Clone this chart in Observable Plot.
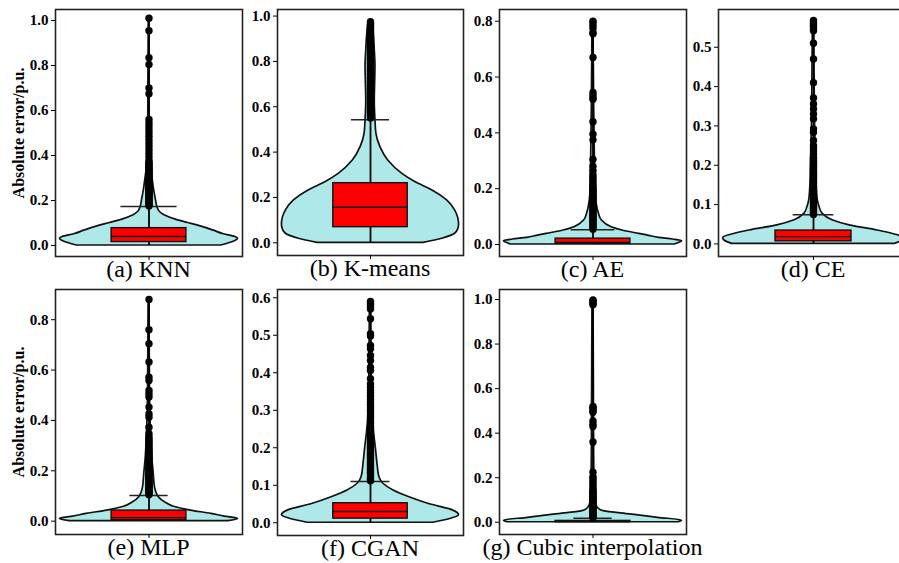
<!DOCTYPE html>
<html><head><meta charset="utf-8">
<script src="https://cdn.jsdelivr.net/npm/d3@7"></script>
<script src="https://cdn.jsdelivr.net/npm/@observablehq/plot@0.6"></script>
<style>
html,body{margin:0;padding:0;background:#fff;overflow:hidden;}
#fig{position:relative;width:899px;height:563px;overflow:hidden;font-family:"Times New Roman",serif;background:#fff;}
.panel{position:absolute;}
.cap{position:absolute;font-size:24px;line-height:24px;white-space:nowrap;transform:translateX(-50%);color:#000;font-family:"Times New Roman",serif;}
.ylab{position:absolute;font-size:16px;font-weight:bold;white-space:nowrap;transform:translate(-50%,-50%) rotate(-90deg);color:#000;font-family:"Times New Roman",serif;}
</style></head>
<body><div id="fig"></div>
<script>
// ---- data: panel captions ----
const captions = ["(a) KNN","(b) K-means","(c) AE","(d) CE","(e) MLP","(f) CGAN","(g) Cubic interpolation"];
const yLabel = "Absolute error/p.u.";

// ---- violin density profiles: [error value, relative density] ----
const profileKNN = [[0,0.81],[0.01,0.90],[0.02,0.97],[0.03,1.0],[0.038,0.97],[0.05,0.84],[0.067,0.72],[0.085,0.58],[0.1,0.44],[0.115,0.30],[0.133,0.18],[0.15,0.12],[0.17,0.095],[0.2,0.079],[0.25,0.056],[0.3,0.039],[0.35,0.022],[0.4,0.015],[0.5,0.009],[0.7,0.007],[1.01,0.003]];
const profileKmeans = [[0,0.60],[0.018,0.81],[0.04,0.955],[0.06,0.99],[0.08,1.0],[0.11,0.99],[0.143,0.955],[0.187,0.865],[0.231,0.70],[0.268,0.505],[0.304,0.36],[0.363,0.20],[0.422,0.112],[0.48,0.067],[0.54,0.056],[0.63,0.048],[0.7,0.052],[0.78,0.056],[0.85,0.048],[0.92,0.037],[0.96,0.025],[0.975,0.011]];
const profileAE = [[0,0.92],[0.006,0.97],[0.012,1.0],[0.018,0.90],[0.024,0.74],[0.031,0.63],[0.038,0.52],[0.05,0.33],[0.062,0.21],[0.086,0.10],[0.11,0.067],[0.134,0.048],[0.18,0.03],[0.28,0.022],[0.5,0.013],[0.8,0.006]];
const profileCE = [[0,0.90],[0.008,0.98],[0.015,1.0],[0.024,0.90],[0.034,0.71],[0.047,0.40],[0.06,0.21],[0.077,0.10],[0.094,0.067],[0.11,0.048],[0.15,0.034],[0.2,0.028],[0.3,0.017],[0.57,0.006]];
const profileMLP = [[0,0.89],[0.009,1.0],[0.018,0.85],[0.029,0.70],[0.042,0.47],[0.056,0.29],[0.075,0.18],[0.095,0.11],[0.135,0.067],[0.19,0.053],[0.25,0.037],[0.32,0.026],[0.5,0.011],[0.88,0.0045]];
const profileCGAN = [[0,0.71],[0.01,0.90],[0.02,1.0],[0.033,0.93],[0.05,0.66],[0.068,0.44],[0.086,0.26],[0.104,0.146],[0.122,0.10],[0.157,0.079],[0.2,0.06],[0.246,0.037],[0.29,0.022],[0.4,0.013],[0.59,0.006]];
const profileCubic = [[0,0.96],[0.007,1.0],[0.02,0.73],[0.035,0.42],[0.05,0.12],[0.06,0.067],[0.075,0.039],[0.09,0.028],[0.15,0.02],[0.3,0.013],[1.0,0.006]];

// ---- box statistics: [Q1, median, Q3, upper whisker, maximum] ----
const statsKNN = [0.015,0.04,0.077,0.173,1.01];
const statsKmeans = [0.069,0.157,0.263,0.543,0.975];
const statsAE = [0.003,0.007,0.021,0.053,0.80];
const statsCE = [0.0066,0.0186,0.034,0.074,0.568];
const statsMLP = [0.004,0.014,0.042,0.102,0.88];
const statsCGAN = [0.011,0.030,0.052,0.110,0.59];
const statsCubic = [0.001,0.003,0.006,0.018,0.998];

// ---- outliers ----
const outliersKNN = [1.01,0.955,0.835,0.805,0.70,0.675,0.56,0.545,0.53,0.515,0.50,0.485,0.47,0.455,0.44,0.425,0.41,0.395,0.38,0.37,0.364,0.358,0.352,0.346,0.341,0.336,0.331,0.326,0.321,0.316,0.311,0.306,0.301,0.296,0.291,0.286,0.281,0.276,0.271,0.266,0.261,0.256,0.251,0.246,0.241,0.236,0.231,0.226,0.221,0.216,0.211,0.206,0.201,0.196,0.191,0.186,0.181,0.176];
const outliersKmeans = [0.975,0.97,0.964,0.958,0.952,0.946,0.94,0.934,0.928,0.922,0.916,0.91,0.904,0.898,0.892,0.886,0.88,0.874,0.868,0.862,0.856,0.85,0.844,0.838,0.832,0.826,0.82,0.814,0.808,0.802,0.796,0.79,0.784,0.778,0.772,0.766,0.76,0.754,0.748,0.742,0.736,0.73,0.724,0.718,0.712,0.706,0.7,0.694,0.688,0.682,0.676,0.67,0.664,0.658,0.652,0.646,0.64,0.634,0.628,0.622,0.616,0.61,0.604,0.598,0.592,0.586,0.58,0.574,0.568,0.562,0.556,0.55];
const outliersAE = [0.80,0.795,0.785,0.775,0.76,0.755,0.67,0.545,0.535,0.525,0.52,0.44,0.395,0.375,0.305,0.28,0.265,0.25,0.24,0.23,0.22,0.212,0.205,0.2,0.195,0.19,0.185,0.18,0.175,0.17,0.165,0.16,0.155,0.15,0.145,0.14,0.135,0.13,0.125,0.12,0.115,0.11,0.105,0.1,0.095,0.09,0.085,0.08,0.075,0.07,0.065,0.06,0.055];
const outliersCE = [0.568,0.564,0.56,0.556,0.552,0.547,0.542,0.51,0.47,0.41,0.371,0.356,0.343,0.33,0.318,0.292,0.284,0.263,0.25,0.244,0.237,0.229,0.222,0.218,0.214,0.21,0.206,0.202,0.198,0.194,0.19,0.186,0.182,0.178,0.174,0.17,0.166,0.162,0.158,0.154,0.15,0.146,0.142,0.138,0.134,0.13,0.126,0.122,0.118,0.114,0.11,0.106,0.102,0.098,0.094,0.09,0.086,0.082,0.078,0.075];
const outliersMLP = [0.88,0.76,0.705,0.632,0.572,0.559,0.519,0.506,0.493,0.453,0.426,0.413,0.373,0.347,0.334,0.325,0.318,0.31,0.302,0.295,0.288,0.281,0.274,0.267,0.26,0.253,0.246,0.24,0.234,0.228,0.222,0.216,0.21,0.205,0.2,0.195,0.19,0.185,0.18,0.175,0.17,0.165,0.16,0.155,0.15,0.145,0.14,0.135,0.13,0.125,0.12,0.115,0.11,0.105];
const outliersCGAN = [0.59,0.586,0.582,0.576,0.57,0.544,0.504,0.498,0.473,0.464,0.446,0.433,0.415,0.406,0.384,0.37,0.362,0.354,0.346,0.338,0.33,0.323,0.316,0.309,0.302,0.296,0.29,0.284,0.278,0.272,0.266,0.26,0.255,0.25,0.245,0.24,0.235,0.23,0.225,0.22,0.215,0.21,0.205,0.2,0.195,0.19,0.185,0.18,0.175,0.17,0.165,0.16,0.155,0.15,0.145,0.14,0.135,0.13,0.125,0.12,0.115,0.112];
const outliersCubic = [0.998,0.993,0.988,0.982,0.976,0.52,0.514,0.508,0.5,0.494,0.455,0.44,0.43,0.36,0.225,0.205,0.195,0.185,0.175,0.165,0.155,0.145,0.14,0.135,0.13,0.125,0.12,0.115,0.11,0.105,0.1,0.095,0.09,0.085,0.08,0.075,0.07,0.065,0.06,0.055,0.05,0.045,0.04,0.035,0.03,0.025,0.02];

// ---- y tick labels ----
const ticksKNN = [0,0.2,0.4,0.6,0.8,1.0];
const ticksKmeans = [0,0.2,0.4,0.6,0.8,1.0];
const ticksAE = [0,0.2,0.4,0.6,0.8];
const ticksCE = [0,0.1,0.2,0.3,0.4,0.5];
const ticksMLP = [0,0.2,0.4,0.6,0.8];
const ticksCGAN = [0,0.1,0.2,0.3,0.4,0.5,0.6];
const ticksCubic = [0,0.2,0.4,0.6,0.8,1.0];

// ---- layout ----
const panels = [
  {cap: captions[0], prof: profileKNN, stats: statsKNN, out: outliersKNN, ticks: ticksKNN, left: 55, top: 9, w: 187, h: 247, dom: [-0.049, 1.049], capW: 0.315, ylab: true},
  {cap: captions[1], prof: profileKmeans, stats: statsKmeans, out: outliersKmeans, ticks: ticksKmeans, left: 277, top: 9, w: 186, h: 246, dom: [-0.056, 1.029], capW: 0.215},
  {cap: captions[2], prof: profileAE, stats: statsAE, out: outliersAE, ticks: ticksAE, left: 499, top: 9, w: 187, h: 247, dom: [-0.043, 0.842], capW: 0.245},
  {cap: captions[3], prof: profileCE, stats: statsCE, out: outliersCE, ticks: ticksCE, left: 718, top: 9, w: 190, h: 247, dom: [-0.032, 0.596], capW: 0.225},
  {cap: captions[4], prof: profileMLP, stats: statsMLP, out: outliersMLP, ticks: ticksMLP, left: 55, top: 289, w: 187, h: 245, dom: [-0.053, 0.920], capW: 0.215, ylab: true},
  {cap: captions[5], prof: profileCGAN, stats: statsCGAN, out: outliersCGAN, ticks: ticksCGAN, left: 277, top: 289, w: 186, h: 246, dom: [-0.034, 0.622], capW: 0.22},
  {cap: captions[6], prof: profileCubic, stats: statsCubic, out: outliersCubic, ticks: ticksCubic, left: 499, top: 289, w: 187, h: 245, dom: [-0.055, 1.045], capW: 0.215}
];

const fig = document.getElementById("fig");
const mL = 50, mR = 10, mT = 10, mB = 12;
const boxW = 0.42;
const serif = "'Times New Roman',serif";

for (const p of panels) {
  const s = p.stats;
  const chart = Plot.plot({
    width: p.w + mL + mR,
    height: p.h + mT + mB,
    marginLeft: mL, marginRight: mR, marginTop: mT, marginBottom: mB,
    x: {domain: [-1.05, 1.05]},
    y: {domain: p.dom},
    style: {fontFamily: serif, fontSize: "15px", fontWeight: "bold", color: "#000", background: "transparent", overflow: "visible"},
    marks: [
      Plot.areaX(p.prof, {y: d => d[0], x1: d => -d[1], x2: d => d[1], fill: "#aee8e8", stroke: "#111", strokeWidth: 1.7, curve: "monotone-y"}),
      Plot.ruleX([0], {y1: 0, y2: s[4], stroke: "#000", strokeWidth: 1.8}),
      Plot.rect([s], {x1: -boxW, x2: boxW, y1: d => d[0], y2: d => d[2], fill: "#ff0000", stroke: "#111", strokeWidth: 1.4}),
      Plot.ruleY([s[1]], {x1: -boxW, x2: boxW, stroke: "#111", strokeWidth: 1.4}),
      Plot.ruleY([s[3]], {x1: -p.capW, x2: p.capW, stroke: "#222", strokeWidth: 1.4}),
      Plot.dot(p.out, {x: 0, y: d => d, r: 3.7, fill: "#000", stroke: "none"}),
      Plot.frame({stroke: "#222", strokeWidth: 1.6}),
      Plot.axisY({ticks: p.ticks, tickFormat: d3.format(".1f"), tickSize: 4, tickPadding: 3, label: null, fontSize: 15, fontFamily: serif, fontWeight: "bold"}),
      Plot.axisX({ticks: [0], tickFormat: () => "", tickSize: 4, label: null})
    ]
  });
  chart.classList.add("panel");
  chart.style.left = (p.left - mL) + "px";
  chart.style.top = (p.top - mT) + "px";
  fig.appendChild(chart);

  const c = document.createElement("div");
  c.className = "cap";
  c.textContent = p.cap;
  c.style.left = (p.left + p.w / 2) + "px";
  c.style.top = (p.top + p.h + 21 - 20.2) + "px";
  fig.appendChild(c);

  if (p.ylab) {
    const y = document.createElement("div");
    y.className = "ylab";
    y.textContent = yLabel;
    y.style.left = "19px";
    y.style.top = (p.top + p.h / 2) + "px";
    fig.appendChild(y);
  }
}
</script></body></html>
